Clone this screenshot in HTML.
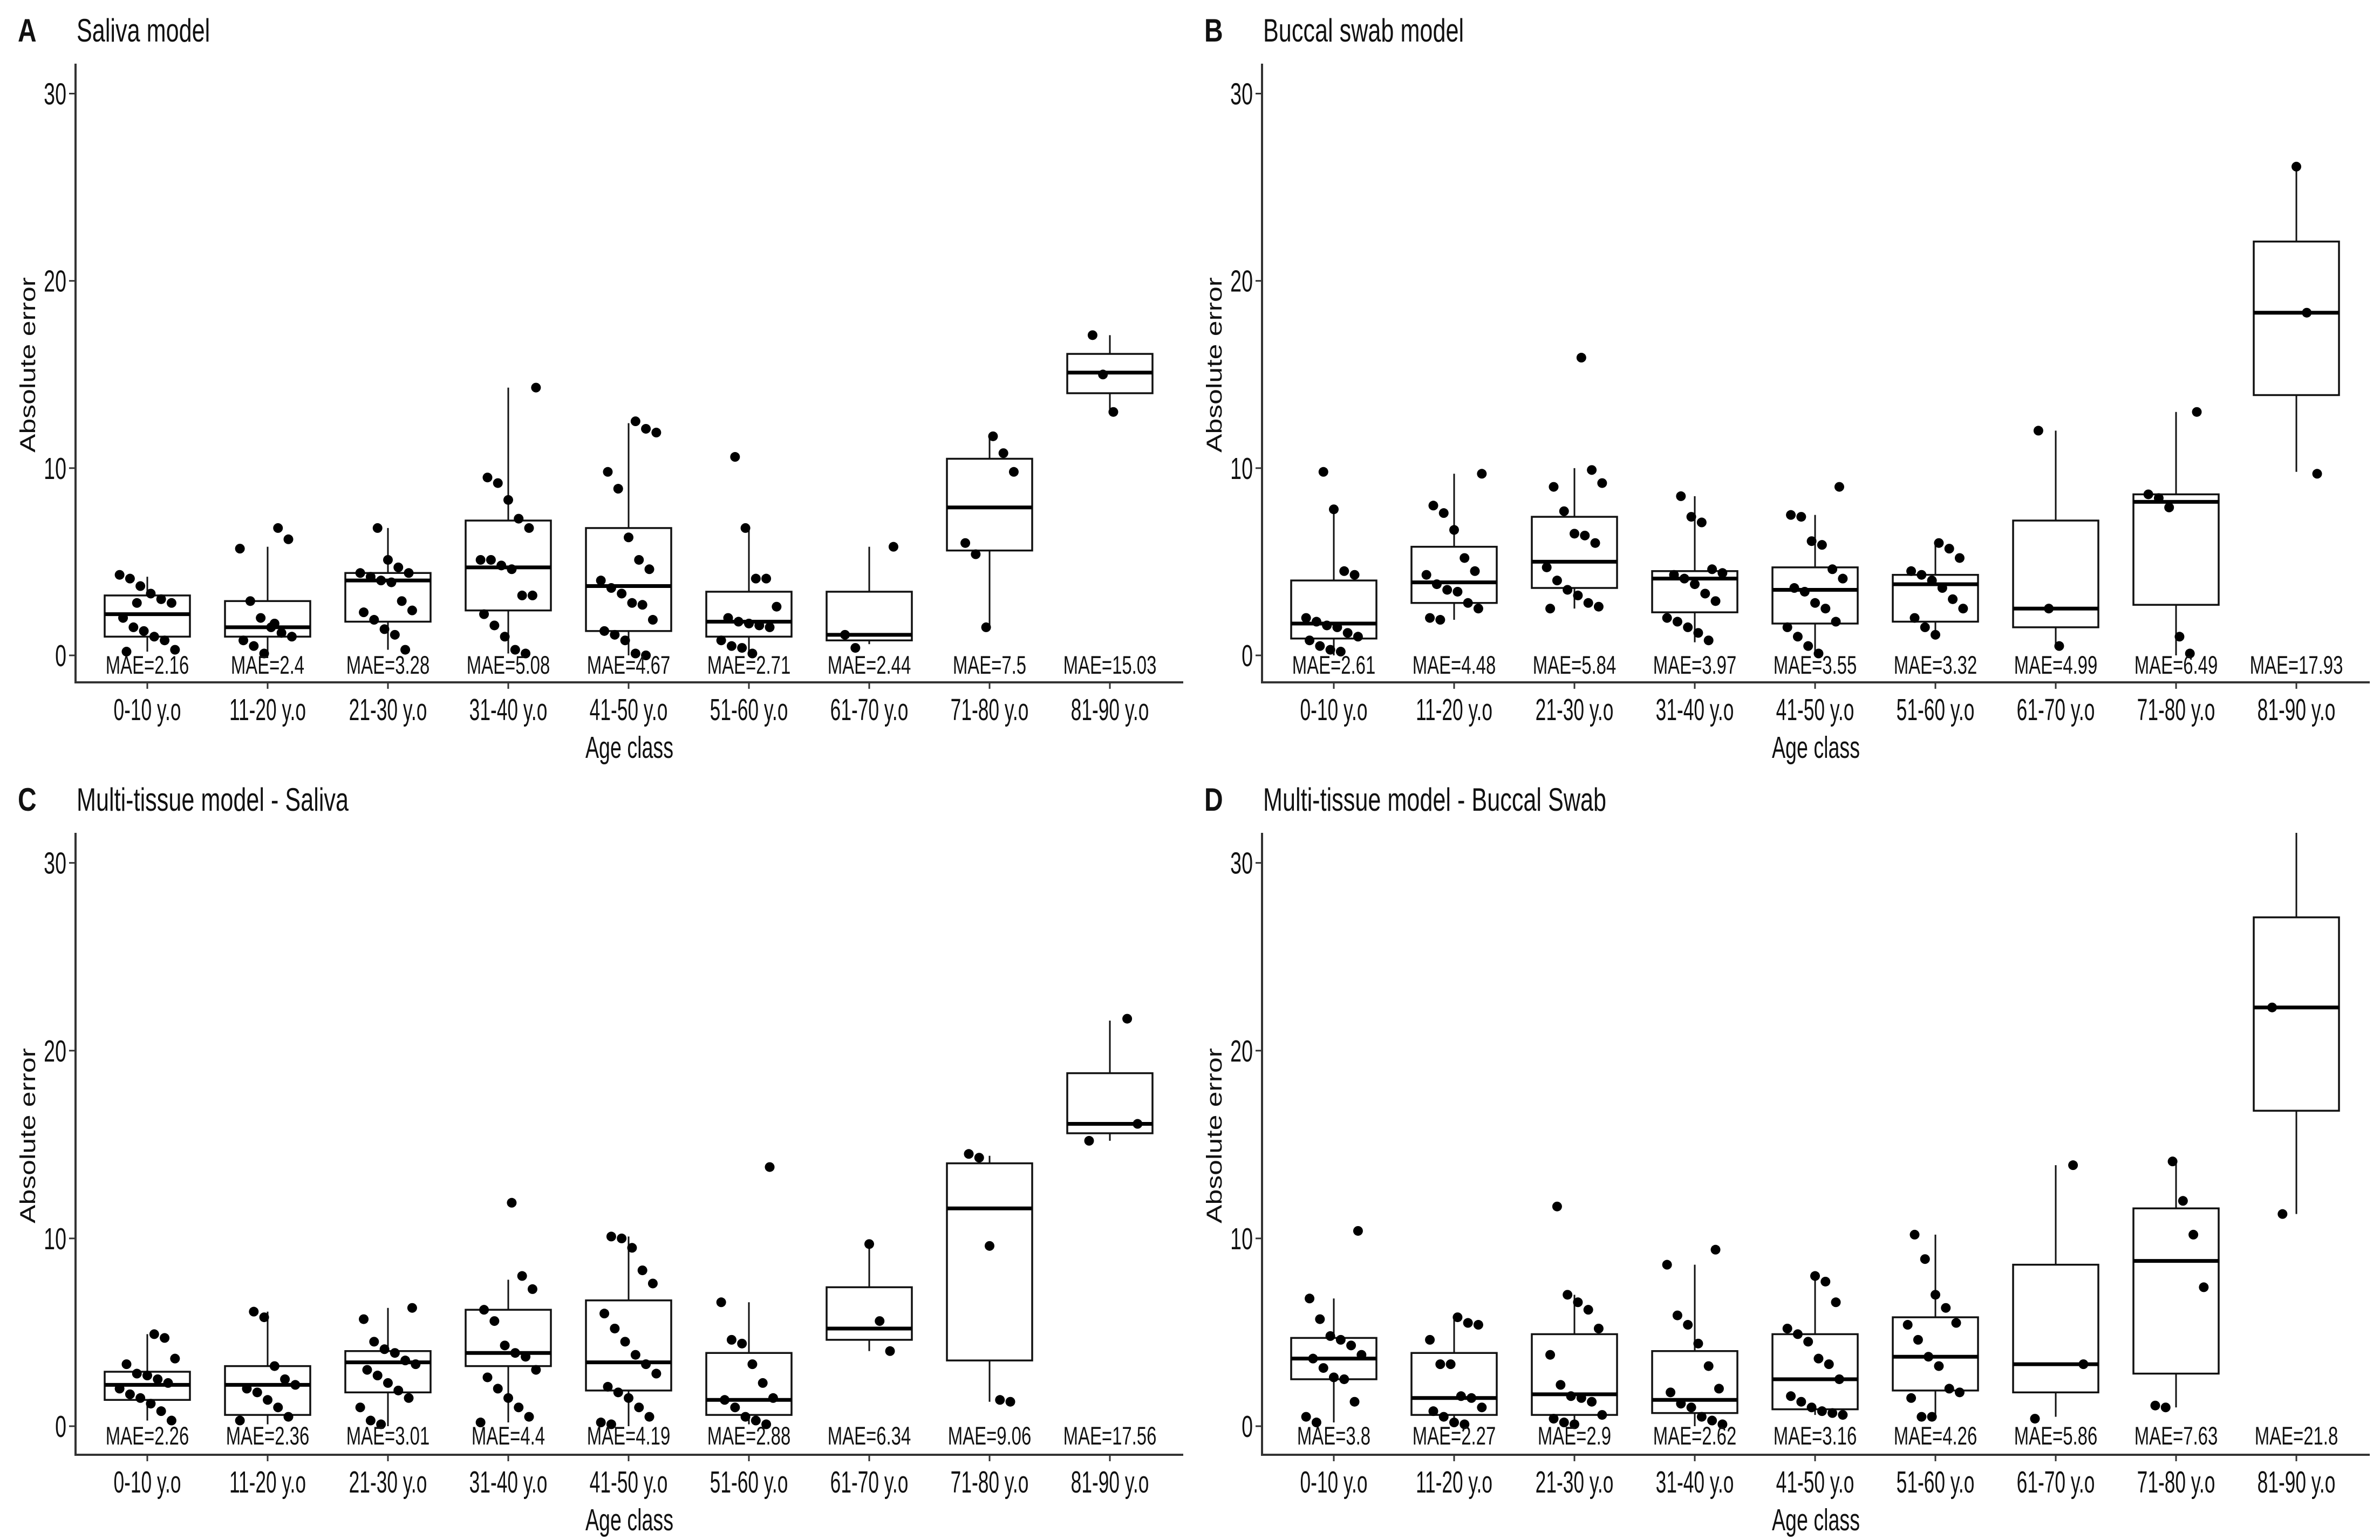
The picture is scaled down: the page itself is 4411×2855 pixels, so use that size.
<!DOCTYPE html>
<html><head><meta charset="utf-8">
<style>
html,body{margin:0;padding:0;background:#fff;}
svg{display:block;}
text{font-family:"Liberation Sans",sans-serif;fill:#111;}
</style></head>
<body>
<svg id="fig" width="4411" height="2855" viewBox="0 0 4411 2855" xmlns="http://www.w3.org/2000/svg"></svg>
<script>
const categories = ["0-10 y.o","11-20 y.o","21-30 y.o","31-40 y.o","41-50 y.o","51-60 y.o","61-70 y.o","71-80 y.o","81-90 y.o"];
const yTicks = [0,10,20,30];
const panelLetters = ["A","B","C","D"];
const panelTitles = ["Saliva model","Buccal swab model","Multi-tissue model - Saliva","Multi-tissue model - Buccal Swab"];
// MAE labels
const maeA = ["2.16","2.4","3.28","5.08","4.67","2.71","2.44","7.5","15.03"];
const maeB = ["2.61","4.48","5.84","3.97","3.55","3.32","4.99","6.49","17.93"];
const maeC = ["2.26","2.36","3.01","4.4","4.19","2.88","6.34","9.06","17.56"];
const maeD = ["3.8","2.27","2.9","2.62","3.16","4.26","5.86","7.63","21.8"];
// box stats per category: [whiskerLow, q1, median, q3, whiskerHigh]
const boxA = [[0.2,1.0,2.2,3.2,4.2],[0.1,1.0,1.5,2.9,5.8],[0.3,1.8,4.0,4.4,6.8],[0.1,2.4,4.7,7.2,14.3],[0,1.3,3.7,6.8,12.4],[0.2,1.0,1.8,3.4,6.8],[0.6,0.8,1.1,3.4,5.8],[1.5,5.6,7.9,10.5,11.7],[13.0,14.0,15.1,16.1,17.1]];
const boxB = [[0,0.9,1.7,4.0,7.9],[1.9,2.8,3.9,5.8,9.7],[2.5,3.6,5.0,7.4,10.0],[0.7,2.3,4.1,4.5,8.5],[0,1.7,3.5,4.7,7.5],[1.0,1.8,3.8,4.3,5.9],[0.5,1.5,2.5,7.2,12.0],[0,2.7,8.2,8.6,13.0],[9.8,13.9,18.3,22.1,26.1]];
const boxC = [[0.3,1.4,2.2,2.9,4.9],[0.1,0.6,2.2,3.2,6.1],[0,1.8,3.4,4.0,6.3],[0.2,3.2,3.9,6.2,7.8],[0,1.9,3.4,6.7,10.1],[0.1,0.6,1.4,3.9,6.6],[4.0,4.6,5.2,7.4,9.7],[1.3,3.5,11.6,14.0,14.4],[15.2,15.6,16.1,18.8,21.6]];
const boxD = [[0.2,2.5,3.6,4.7,6.8],[0.1,0.6,1.5,3.9,5.7],[0,0.6,1.7,4.9,7.0],[0,0.7,1.4,4.0,8.6],[0.6,0.9,2.5,4.9,7.9],[0.5,1.9,3.7,5.8,10.2],[0.5,1.8,3.3,8.6,13.9],[1.0,2.8,8.8,11.6,14.0],[11.3,16.8,22.3,27.1,33.0]];
// jittered points (values) per category
const ptsA = [[4.3,4.1,3.7,3.3,3.0,2.8,2.0,1.5,1.3,1.0,0.8,0.3,0.2,2.8],[6.8,6.2,5.7,2.9,2.0,1.5,1.2,1.0,0.8,0.5,0.1,1.7],[6.8,5.1,4.7,4.4,4.4,4.2,4.0,3.9,2.9,2.4,2.3,1.9,1.4,1.1,0.3],[14.3,9.5,9.2,8.3,7.3,6.8,5.1,5.1,4.8,4.6,3.2,3.2,2.2,1.6,1.0,0.3,0.1],[12.5,12.1,11.9,9.8,8.9,6.3,5.1,4.6,4.0,3.6,3.3,2.8,2.7,1.9,1.3,1.1,0.8,0.1,0],[10.6,6.8,4.1,4.1,2.6,2.0,1.8,1.7,1.6,1.5,0.8,0.5,0.4,0.1],[5.8,1.1,0.4],[11.7,10.8,9.8,6.0,5.4,1.5],[17.1,15.0,13.0]];
const ptsB = [[9.8,7.8,4.5,4.3,2.0,1.8,1.6,1.5,1.2,1.0,0.8,0.5,0.3,0.2],[9.7,8.0,7.6,6.7,5.2,4.5,4.3,3.8,3.5,3.4,2.8,2.5,2.0,1.9],[15.9,9.9,9.2,9.0,7.7,6.5,6.4,6.0,4.7,4.0,3.5,3.2,2.8,2.6,2.5],[8.5,7.4,7.1,4.6,4.4,4.3,4.1,3.8,3.3,2.9,2.0,1.8,1.5,1.2,0.8],[9.0,7.5,7.4,6.1,5.9,4.6,4.1,3.6,3.4,2.8,2.5,1.8,1.5,1.0,0.5,0.1],[6.0,5.7,5.2,4.5,4.3,4.0,3.6,3.0,2.5,2.0,1.5,1.1],[12.0,2.5,0.5],[13.0,8.6,8.4,7.9,1.0,0.1],[26.1,18.3,9.7]];
const ptsC = [[4.9,4.7,3.6,3.3,2.8,2.7,2.5,2.3,2.0,1.7,1.5,1.2,0.8,0.3],[6.1,5.8,3.2,2.5,2.2,2.0,1.8,1.4,1.0,0.5,0.3],[6.3,5.7,4.5,4.1,3.9,3.5,3.3,3.0,2.7,2.3,1.9,1.5,1.0,0.3,0.1],[11.9,8.0,7.3,6.2,5.6,4.3,3.9,3.7,3.0,2.6,2.0,1.5,1.0,0.5,0.2],[10.1,10.0,9.5,8.3,7.6,6.0,5.2,4.5,3.8,3.3,2.8,2.1,1.8,1.5,1.0,0.5,0.2,0.1],[13.8,6.6,4.6,4.4,3.3,2.3,1.5,1.4,1.0,0.5,0.3,0.1],[9.7,5.6,4.0],[14.5,14.3,9.6,1.4,1.3],[21.7,16.1,15.2]];
const ptsD = [[10.4,6.8,5.7,4.8,4.6,4.3,3.8,3.6,3.1,2.6,2.5,1.3,0.5,0.2],[5.8,5.5,5.4,4.6,3.3,3.3,1.6,1.5,1.0,0.8,0.5,0.2,0.1],[11.7,7.0,6.6,6.2,5.2,3.8,2.2,1.6,1.5,1.3,0.6,0.4,0.2,0.1],[9.4,8.6,5.9,5.4,4.4,3.2,2.0,1.8,1.2,1.0,0.5,0.3,0.1],[8.0,7.7,6.6,5.2,4.9,4.5,3.6,3.3,2.5,1.6,1.3,1.0,0.8,0.7,0.6],[10.2,8.9,7.0,6.3,5.5,5.4,4.6,3.7,3.2,2.0,1.8,1.5,0.5,0.5],[13.9,3.3,0.4],[14.1,12.0,10.2,7.4,1.1,1.0],[22.3,11.3]];

const NS = "http://www.w3.org/2000/svg";
const svg = document.getElementById("fig");
function mk(tag, attrs, parent){
  const e = document.createElementNS(NS, tag);
  for (const k in attrs) e.setAttribute(k, attrs[k]);
  (parent||svg).appendChild(e);
  return e;
}
function txt(parent, x, y, s, size, sx, anchor, weight){
  const t = mk("text", {transform:`translate(${x},${y}) scale(${sx},1)`, "font-size":size, "text-anchor":anchor||"middle"}, parent);
  if (weight) t.setAttribute("font-weight", weight);
  t.textContent = s;
  return t;
}

const panels = [
  {x0:140, top:118, axisY:1265, y0:1215, mae:maeA, box:boxA, pts:ptsA},
  {x0:2339, top:118, axisY:1265, y0:1215, mae:maeB, box:boxB, pts:ptsB},
  {x0:140, top:1544, axisY:2697, y0:2644, mae:maeC, box:boxC, pts:ptsC},
  {x0:2339, top:1544, axisY:2697, y0:2644, mae:maeD, box:boxD, pts:ptsD}
];
const plotW = 2053, catOff = 133, catStep = 223, boxHalf = 79;

panels.forEach((p, pi) => {
  const g = mk("g", {});
  
  
  const unit = (p.y0 - p.top) / 31.6;
  const yS = v => p.y0 - v * unit;
  const xS = i => p.x0 + catOff + i * catStep;
  const clipId = "clip" + pi;
  const cp = mk("clipPath", {id: clipId}, g);
  mk("rect", {x:p.x0, y:p.top, width:plotW, height:p.axisY - p.top}, cp);

  // title
  const lt = txt(g, p.x0 - 107, p.top - 41, panelLetters[pi], 60, 0.8, "start", "bold");
  
  
  const tt = txt(g, p.x0 + 2, p.top - 41, panelTitles[pi], 60, 0.72, "start");
  
  

  // y-axis title
  const yt = mk("text", {transform:`translate(${p.x0 - 75},${(p.top + p.axisY)/2 - 15}) rotate(-90)`, "font-size":40, "text-anchor":"middle", textLength:325, lengthAdjust:"spacingAndGlyphs"}, g);
  yt.textContent = "Absolute error";
  
  

  // axes
  const ax = mk("path", {d:`M${p.x0},${p.top} V${p.axisY} H${p.x0 + plotW}`, fill:"none", stroke:"#333", "stroke-width":4}, g);
  
  

  yTicks.forEach(v => {
    mk("line", {x1:p.x0 - 12, x2:p.x0, y1:yS(v), y2:yS(v), stroke:"#333", "stroke-width":3}, g);
    const tl = txt(g, p.x0 - 17, yS(v) + 20, String(v), 57, 0.66, "end");
    
    
  });

  categories.forEach((c, i) => {
    const x = xS(i);
    mk("line", {x1:x, x2:x, y1:p.axisY, y2:p.axisY + 12, stroke:"#333", "stroke-width":3}, g);
    const cl = txt(g, x, p.axisY + 70, c, 57, 0.62, "middle");
    
    

    const b = p.box[i];
    const bg = mk("g", {"clip-path":`url(#${clipId})`}, g);
    
    
    mk("line", {x1:x, x2:x, y1:yS(b[3]), y2:yS(b[4]), stroke:"#111", "stroke-width":3}, bg);
    mk("line", {x1:x, x2:x, y1:yS(b[0]), y2:yS(b[1]), stroke:"#111", "stroke-width":3}, bg);
    mk("rect", {x:x - boxHalf, y:yS(b[3]), width:2*boxHalf, height:yS(b[1]) - yS(b[3]), fill:"#fff", stroke:"#111", "stroke-width":3.5}, bg);
    mk("line", {x1:x - boxHalf, x2:x + boxHalf, y1:yS(b[2]), y2:yS(b[2]), stroke:"#000", "stroke-width":7}, bg);

    p.pts[i].forEach((v, k) => {
      const j = (((k * 37 + i * 11 + pi * 5) % 17) / 16 - 0.5) * 1.3 * boxHalf;
      const dot = mk("circle", {cx:x + j, cy:yS(v), r:9, fill:"#000"}, bg);
      
      
    });

    const ml = txt(g, x, p.y0 + 34, "MAE=" + p.mae[i], 47, 0.70, "middle");
    
    
  });

  if (pi >= 0) {
    const xt = txt(g, p.x0 + plotW/2, p.axisY + 140, "Age class", 57, 0.66, "middle");
    
    
  }
});
</script>
</body></html>
